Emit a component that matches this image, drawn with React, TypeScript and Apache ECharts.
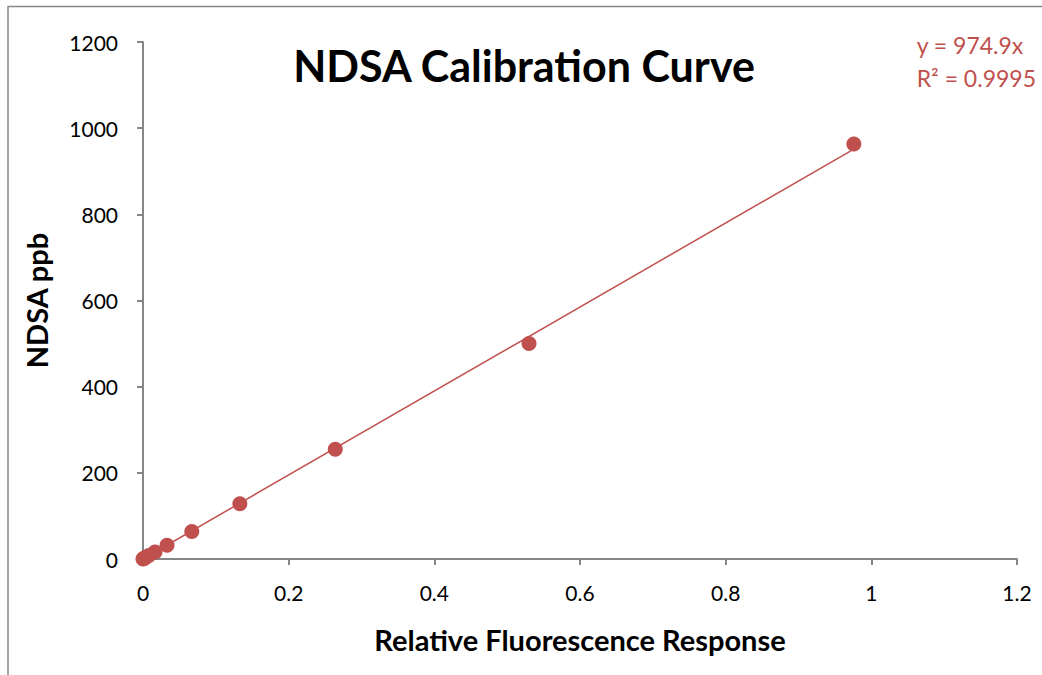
import React, { useEffect, useRef } from "react";
import * as echarts from "echarts";

const responseX: number[] = [0, 0.001, 0.002, 0.004, 0.008, 0.0165, 0.033, 0.067, 0.133, 0.264, 0.53, 0.976];
const ppbY: number[] = [0, 1, 2, 4, 8, 16, 32, 64, 128, 255, 500, 963];
const slope = 974.9;
const equationLines: string[] = ["y = 974.9x", "R² = 0.9995"];
const titleText = "NDSA Calibration Curve";
const xName = "Relative Fluorescence Response";
const yName = "NDSA ppb";

const RED = "#C0504D";
const AXIS = "#868686";
const FONT = "Lato, 'Open Sans', sans-serif";

export default function App() {
  const ref = useRef<HTMLDivElement>(null);
  useEffect(() => {
    if (!ref.current) return;
    const chart = echarts.init(ref.current, undefined, { renderer: "svg" });
    const points = responseX.map((x, i) => [x, ppbY[i]]);
    const xMax = Math.max(...responseX);
    const trend = [
      [0, 0],
      [xMax, slope * xMax],
    ];
    chart.setOption({
      animation: false,
      backgroundColor: "#ffffff",
      textStyle: { fontFamily: FONT },
      title: {
        text: titleText,
        left: 519,
        textAlign: "center",
        top: 39,
        textStyle: { fontFamily: FONT, fontWeight: "bold", fontSize: 43, color: "#000" },
      },
      graphic: [
        {
          type: "rect",
          shape: { x: 8, y: 6.5, width: 1200, height: 800 },
          style: { fill: "none", stroke: AXIS, lineWidth: 1.5 },
          silent: true,
        },
        {
          type: "text",
          right: 6,
          top: 28,
          style: {
            text: equationLines.join("\n"),
            fill: RED,
            font: `23px ${FONT}`,
            lineHeight: 33,
            align: "right",
          },
        },
      ],
      grid: { left: 143, right: 25, top: 42, bottom: 116 },
      xAxis: {
        type: "value",
        min: 0,
        max: 1.2,
        interval: 0.2,
        name: xName,
        nameLocation: "middle",
        nameGap: 66,
        nameTextStyle: { fontFamily: FONT, fontWeight: "bold", fontSize: 29, color: "#000" },
        axisLine: { show: true, lineStyle: { color: AXIS, width: 2 } },
        axisTick: { show: true, inside: false, length: 6, lineStyle: { color: AXIS, width: 2 } },
        axisLabel: { fontFamily: FONT, fontSize: 21, color: "#000", margin: 23 },
        splitLine: { show: false },
      },
      yAxis: {
        type: "value",
        min: 0,
        max: 1200,
        interval: 200,
        name: yName,
        nameLocation: "middle",
        nameGap: 92,
        nameRotate: 90,
        nameTextStyle: { fontFamily: FONT, fontWeight: "bold", fontSize: 29, color: "#000" },
        axisLine: { show: true, lineStyle: { color: AXIS, width: 2 } },
        axisTick: { show: true, inside: false, length: 6, lineStyle: { color: AXIS, width: 2 } },
        axisLabel: {
          fontFamily: FONT,
          fontSize: 21,
          color: "#000",
          margin: 25,
          formatter: (v: number) => String(v),
        },
        splitLine: { show: false },
      },
      series: [
        {
          type: "line",
          data: trend,
          showSymbol: false,
          symbol: "none",
          lineStyle: { color: RED, width: 1.5 },
          silent: true,
          z: 2,
        },
        {
          type: "scatter",
          data: points,
          symbol: "circle",
          symbolSize: 15,
          itemStyle: { color: RED, opacity: 1 },
          z: 3,
        },
      ],
    });
    return () => chart.dispose();
  }, []);
  return (
    <div
      ref={ref}
      style={{ position: "fixed", left: 0, top: 0, width: 1042, height: 675, background: "#fff" }}
    />
  );
}
